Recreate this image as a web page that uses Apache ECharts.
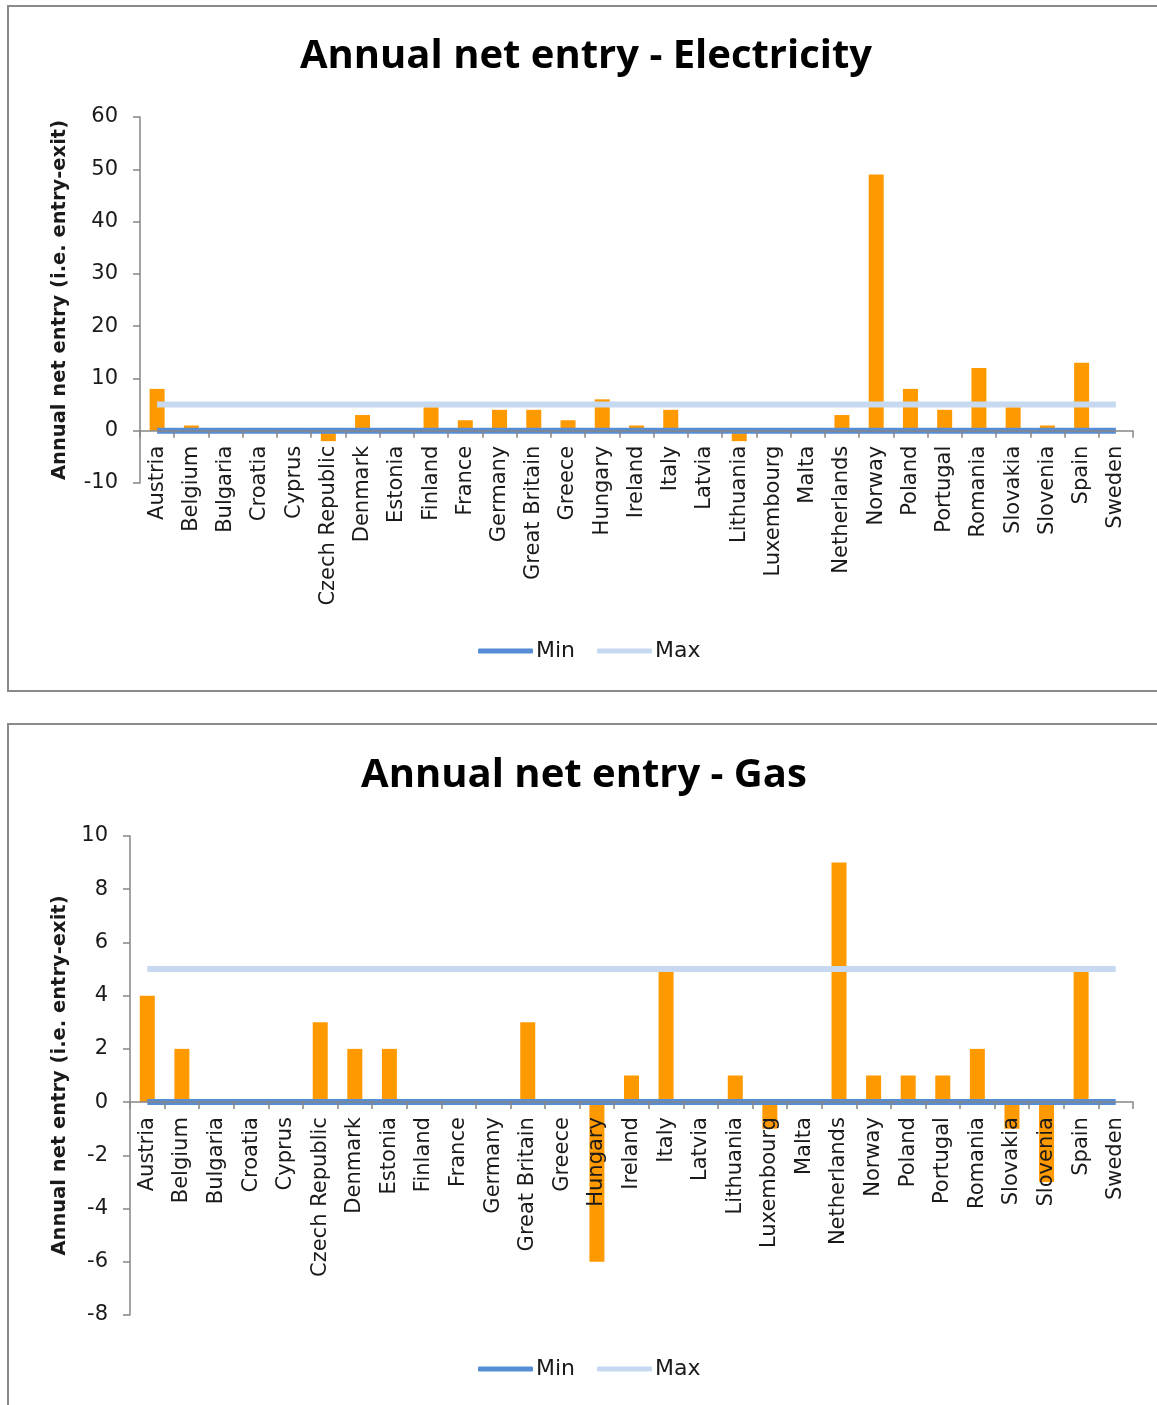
<!DOCTYPE html>
<html>
<head>
<meta charset="utf-8">
<title>Annual net entry</title>
<script src="https://cdn.jsdelivr.net/npm/echarts@6/dist/echarts.min.js"></script>
<style>
  html, body { margin: 0; padding: 0; background: #fff; width: 1157px; height: 1405px; overflow: hidden; }
  .panel { position: absolute; border: 2px solid #8a8a8a; background: #fff; }
  #chart { position: absolute; left: 0; top: 0; width: 1157px; height: 1405px; }
</style>
</head>
<body>
<div class="panel" style="left:7px; top:5px; width:1180px; height:683px;"></div>
<div class="panel" style="left:7px; top:723px; width:1180px; height:720px;"></div>
<div id="chart"></div>
<script>
// Member states shown on the category axis (shared by both charts)
const countries = [
  'Austria', 'Belgium', 'Bulgaria', 'Croatia', 'Cyprus', 'Czech Republic',
  'Denmark', 'Estonia', 'Finland', 'France', 'Germany', 'Great Britain',
  'Greece', 'Hungary', 'Ireland', 'Italy', 'Latvia', 'Lithuania',
  'Luxembourg', 'Malta', 'Netherlands', 'Norway', 'Poland', 'Portugal',
  'Romania', 'Slovakia', 'Slovenia', 'Spain', 'Sweden'
];

// Electricity: annual net entry per country
const electricityNetEntry = [
  8, 1, 0, 0, 0, -2,
  3, 0, 4.5, 2, 4, 4,
  2, 6, 1, 4, 0, -2,
  0, 0, 3, 49, 8, 4,
  12, 4.5, 1, 13, 0
];
const electricityMin = [0, 0, 0, 0, 0, 0, 0, 0, 0, 0, 0, 0, 0, 0, 0, 0, 0, 0, 0, 0, 0, 0, 0, 0, 0, 0, 0, 0, 0];
const electricityMax = [5, 5, 5, 5, 5, 5, 5, 5, 5, 5, 5, 5, 5, 5, 5, 5, 5, 5, 5, 5, 5, 5, 5, 5, 5, 5, 5, 5, 5];

// Gas: annual net entry per country
const gasNetEntry = [
  4, 2, 0, 0, 0, 3,
  2, 2, 0, 0, 0, 3,
  0, -6, 1, 5, 0, 1,
  -1, 0, 9, 1, 1, 1,
  2, -1, -3, 5, 0
];
const gasMin = [0, 0, 0, 0, 0, 0, 0, 0, 0, 0, 0, 0, 0, 0, 0, 0, 0, 0, 0, 0, 0, 0, 0, 0, 0, 0, 0, 0, 0];
const gasMax = [5, 5, 5, 5, 5, 5, 5, 5, 5, 5, 5, 5, 5, 5, 5, 5, 5, 5, 5, 5, 5, 5, 5, 5, 5, 5, 5, 5, 5];

// Value-axis ranges
const electricityAxis = { min: -10, max: 60, interval: 10 };
const gasAxis = { min: -8, max: 10, interval: 2 };

const BAR = '#FF9900';
const MIN_COLOR = '#558ED5';
const MAX_COLOR = '#C6D9F1';
const AXIS_GREY = '#868686';
const TEXT = '#1a1a1a';
const LABEL_FONT = 'DejaVu Sans';

// Plot areas (pixel boxes) — the category axis is lifted to the zero line
const gridE = { left: 140, right: 24, top: 117, height: 366 };
const gridG = { left: 130, right: 24, top: 836, height: 479 };

function zeroOffset(grid, range) {
  // distance from the bottom of the plot to the value 0
  return -grid.height * (0 - range.min) / (range.max - range.min);
}

function catAxis(gridIndex, grid, range) {
  return {
    type: 'category',
    gridIndex: gridIndex,
    data: countries,
    boundaryGap: true,
    position: 'bottom',
    offset: zeroOffset(grid, range),
    z: 5,
    axisLine: { onZero: false, lineStyle: { color: AXIS_GREY, width: 1.5 } },
    axisTick: { show: true, interval: 0, length: 7, lineStyle: { color: AXIS_GREY, width: 1.5 } },
    axisLabel: {
      interval: 0, rotate: 90, margin: 15,
      color: TEXT, fontFamily: LABEL_FONT, fontSize: 21
    },
    splitLine: { show: false }
  };
}

function valAxis(gridIndex, range, nameGap) {
  return {
    type: 'value',
    gridIndex: gridIndex,
    min: range.min, max: range.max, interval: range.interval,
    name: 'Annual net entry (i.e. entry-exit)',
    nameLocation: 'middle',
    nameGap: nameGap,
    nameTextStyle: { color: TEXT, fontFamily: 'DejaVu Sans', fontWeight: 'bold', fontSize: 19.5 },
    axisLine: { show: true, lineStyle: { color: AXIS_GREY, width: 1.5 } },
    axisTick: { show: true, length: 7, lineStyle: { color: AXIS_GREY, width: 1.5 } },
    axisLabel: { color: TEXT, fontFamily: LABEL_FONT, fontSize: 21, margin: 22 },
    splitLine: { show: false }
  };
}

function lineSeries(name, idx, data, color) {
  return {
    name: name, type: 'line', xAxisIndex: idx, yAxisIndex: idx,
    data: data, symbol: 'none', z: 4,
    lineStyle: { color: color, width: 6 },
    itemStyle: { color: color },
    emphasis: { disabled: true }
  };
}

function barSeries(idx, data) {
  return {
    name: 'Net entry', type: 'bar', xAxisIndex: idx, yAxisIndex: idx,
    data: data, barWidth: 15, z: 2,
    itemStyle: { color: BAR },
    emphasis: { disabled: true }
  };
}

function legendAt(top) {
  return {
    data: ['Min', 'Max'],
    left: 473, top: top,
    icon: 'roundRect', itemWidth: 55, itemHeight: 5, itemGap: 22,
    textStyle: { color: TEXT, fontFamily: LABEL_FONT, fontSize: 22, padding: [0, 0, 0, -2] },
    selectedMode: false
  };
}

const chart = echarts.init(document.getElementById('chart'), null, { renderer: 'canvas' });

chart.setOption({
  animation: false,
  backgroundColor: 'transparent',
  title: [
    {
      text: 'Annual net entry - Electricity', left: 581, top: 32, textAlign: 'center',
      textStyle: { color: '#000', fontFamily: 'Open Sans', fontWeight: 'bold', fontSize: 40 }
    },
    {
      text: 'Annual net entry - Gas', left: 579, top: 751, textAlign: 'center',
      textStyle: { color: '#000', fontFamily: 'Open Sans', fontWeight: 'bold', fontSize: 40 }
    }
  ],
  legend: [legendAt(635), legendAt(1353)],
  grid: [gridE, gridG],
  xAxis: [catAxis(0, gridE, electricityAxis), catAxis(1, gridG, gasAxis)],
  yAxis: [valAxis(0, electricityAxis, 70), valAxis(1, gasAxis, 60)],
  series: [
    barSeries(0, electricityNetEntry),
    lineSeries('Min', 0, electricityMin, MIN_COLOR),
    lineSeries('Max', 0, electricityMax, MAX_COLOR),
    barSeries(1, gasNetEntry),
    lineSeries('Min', 1, gasMin, MIN_COLOR),
    lineSeries('Max', 1, gasMax, MAX_COLOR)
  ]
});
</script>
</body>
</html>
